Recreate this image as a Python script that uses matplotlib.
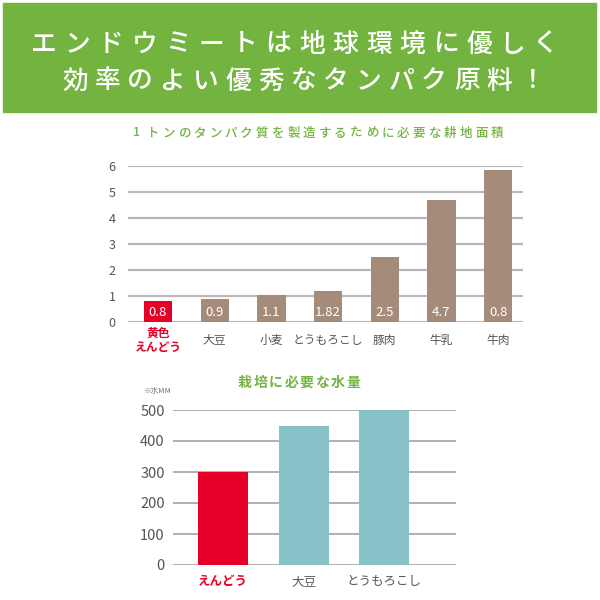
import matplotlib
matplotlib.use('Agg')
import matplotlib.pyplot as plt
from matplotlib.patches import Rectangle

plt.rcParams['font.family'] = ['Noto Sans CJK JP', 'DejaVu Sans']

# data
banner_lines = ['エンドウミートは地球環境に優しく', '効率のよい優秀なタンパク原料！']

land_title = '1トンのタンパク質を製造するために必要な耕地面積'
land_items = ['黄色\nえんどう', '大豆', '小麦', 'とうもろこし', '豚肉', '牛乳', '牛肉']
land_values = [0.8, 0.9, 1.05, 1.2, 2.5, 4.7, 5.85]
land_labels = ['0.8', '0.9', '1.1', '1.82', '2.5', '4.7', '0.8']
land_ticks = [0, 1, 2, 3, 4, 5, 6]

water_title = '栽培に必要な水量'
water_unit = '※水MM'
water_items = ['えんどう', '大豆', 'とうもろこし']
water_values = [300, 450, 500]
water_ticks = [0, 100, 200, 300, 400, 500]

RED = '#e60028'
BROWN = '#a58c7a'
TEAL = '#88c2c9'
GREEN = '#74b443'
GRAY_TXT = '#555555'

W = H = 600


def spaced_text(fig, s, x0, x1, y, **kw):
    # draw a string with wide letter spacing (centres from x0 to x1, pixels)
    n = len(s)
    step = (x1 - x0) / (n - 1)
    for i, ch in enumerate(s):
        fig.text((x0 + i * step) / W, 1 - y / H, ch, ha='center', va='center', **kw)


def px_axes(fig, left, top, right, bottom):
    return fig.add_axes([left / W, 1 - bottom / H, (right - left) / W, (bottom - top) / H])


fig = plt.figure(figsize=(6, 6), dpi=100)
fig.patch.set_facecolor('white')

# green banner
fig.patches.append(Rectangle((3 / W, 1 - 112 / H), 593 / W, 109 / H,
                             transform=fig.transFigure, color='#73b340', zorder=0))
spaced_text(fig, banner_lines[0], 44, 546, 44, color='white', fontsize=18.5, fontweight='medium')
spaced_text(fig, banner_lines[1], 75, 532, 81, color='white', fontsize=18.5, fontweight='medium')

# chart 1
spaced_text(fig, land_title, 137, 497, 133, color=GREEN, fontsize=9, fontweight='medium')
ax1 = px_axes(fig, 128, 166, 523, 322)
x1 = list(range(len(land_items)))
colors1 = [RED] + [BROWN] * (len(land_items) - 1)
ax1.bar(x1, land_values, width=0.5, color=colors1, zorder=3)
for x, lab in zip(x1, land_labels):
    ax1.text(x, 0.38, lab, ha='center', va='center', color='white', fontsize=9.5, zorder=4)
ax1.set_xlim(-0.53, 6.44)
ax1.set_ylim(0, 6)
ax1.set_yticks(land_ticks)
ax1.yaxis.grid(True, color='#b8b8b8', linewidth=1.6)
ax1.set_axisbelow(True)
ax1.set_xticks(x1)
ax1.set_xticklabels(land_items, fontsize=8.5, color=GRAY_TXT, linespacing=1.1)
for lbl in ax1.get_xticklabels():
    lbl.set_va('center')
lbl0 = ax1.get_xticklabels()[0]
lbl0.set_color(RED)
lbl0.set_fontweight('bold')
ax1.tick_params(axis='x', length=0, pad=13)
ax1.tick_params(axis='y', length=0, pad=9, labelsize=9, labelcolor=GRAY_TXT)
for s in ax1.spines.values():
    s.set_visible(False)

# chart 2
spaced_text(fig, water_title, 245, 353, 383, color=GREEN, fontsize=10, fontweight='bold')
fig.text(144 / W, 1 - 391 / H, water_unit, ha='left', va='center', color='#777777', fontsize=5.5)
ax2 = px_axes(fig, 173, 410, 456, 565)
x2 = list(range(len(water_items)))
colors2 = [RED] + [TEAL] * (len(water_items) - 1)
ax2.bar(x2, water_values, width=0.62, color=colors2, zorder=3)
ax2.set_xlim(-0.62, 2.89)
ax2.set_ylim(0, 500)
ax2.set_yticks(water_ticks)
ax2.yaxis.grid(True, color='#9a9a9a', linewidth=1.1)
ax2.set_axisbelow(True)
ax2.set_xticks(x2)
ax2.set_xticklabels(water_items, fontsize=9, color=GRAY_TXT)
for lbl in ax2.get_xticklabels():
    lbl.set_va('center')
lbl0 = ax2.get_xticklabels()[0]
lbl0.set_color(RED)
lbl0.set_fontweight('bold')
ax2.tick_params(axis='x', length=0, pad=12)
ax2.tick_params(axis='y', length=0, pad=6, labelsize=10.5, labelcolor=GRAY_TXT)
for s in ax2.spines.values():
    s.set_visible(False)

fig.savefig('out.png', dpi=100)
